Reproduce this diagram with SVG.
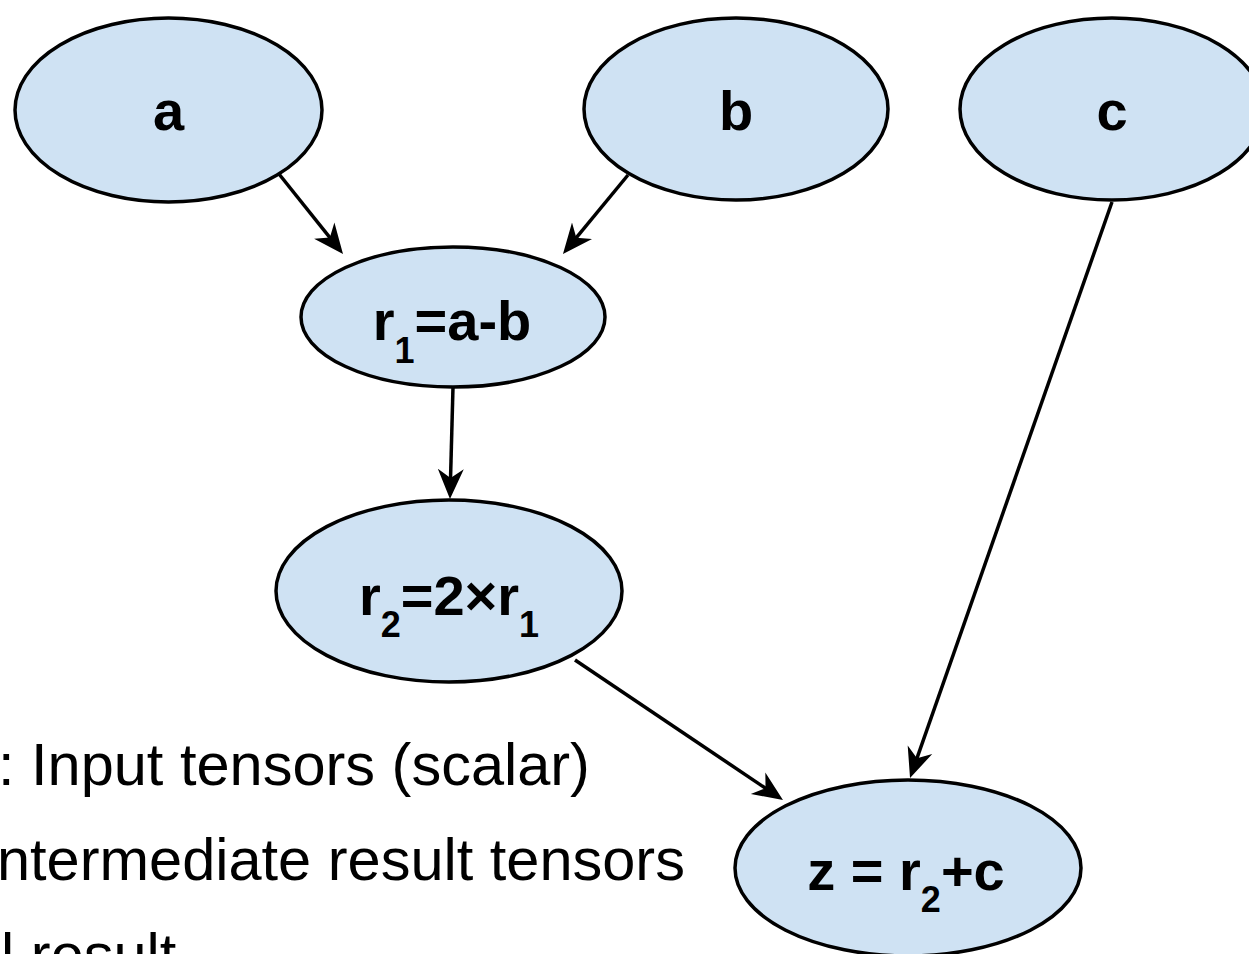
<svg xmlns="http://www.w3.org/2000/svg" width="1249" height="954" viewBox="0 0 1249 954">
<style>
.node ellipse{fill:#cfe2f3;stroke:#000;stroke-width:3.5}
.lbl{font-family:"Liberation Sans",Arial,sans-serif;font-weight:bold;font-size:56px;fill:#000;text-anchor:middle}
.sub{font-size:36px}
.legend{font-family:"Liberation Sans",Arial,sans-serif;font-size:59.5px;fill:#000}
.edge{stroke:#000;stroke-width:3.5;fill:none;marker-end:url(#arr)}
</style>
<defs>
<marker id="arr" markerUnits="userSpaceOnUse" markerWidth="32" markerHeight="30" viewBox="0 0 32 30" refX="18" refY="15" orient="auto">
<path d="M0,2 L30,15 L0,28 L9,15 Z" fill="#000"/>
</marker>
</defs>
<rect width="1249" height="954" fill="#fff"/>
<g id="node-a" class="node"><ellipse cx="168.5" cy="110" rx="153.5" ry="92"/><text class="lbl" x="168.5" y="130">a</text></g>
<g id="node-b" class="node"><ellipse cx="736" cy="109" rx="152" ry="91"/><text class="lbl" x="736" y="130">b</text></g>
<g id="node-c" class="node"><ellipse cx="1112" cy="109" rx="152" ry="91"/><text class="lbl" x="1112" y="130">c</text></g>
<g id="node-r1" class="node"><ellipse cx="453" cy="317" rx="152" ry="70"/><text class="lbl" x="452" y="340">r<tspan class="sub" dy="23">1</tspan><tspan dy="-23">=a-b</tspan></text></g>
<g id="node-r2" class="node"><ellipse cx="449" cy="591" rx="173" ry="91"/><text class="lbl" x="449" y="615">r<tspan class="sub" dy="22">2</tspan><tspan dy="-22">=2×r</tspan><tspan class="sub" dy="22">1</tspan></text></g>
<g id="node-z" class="node"><ellipse cx="908" cy="868" rx="173" ry="88"/><text class="lbl" x="906" y="890">z = r<tspan class="sub" dy="22">2</tspan><tspan dy="-22">+c</tspan></text></g>
<g id="connectors">
<line class="edge" x1="279" y1="174" x2="335.5" y2="244.6"/>
<line class="edge" x1="628" y1="175" x2="570.6" y2="244.7"/>
<line class="edge" x1="453" y1="387" x2="450.3" y2="487"/>
<line class="edge" x1="575" y1="660" x2="773" y2="793.3"/>
<line class="edge" x1="1112" y1="202" x2="914" y2="766.7"/>
</g>
<g id="legend">
<text class="legend" x="-2" y="785">: Input tensors (scalar)</text>
<text class="legend" x="-3" y="880">ntermediate result tensors</text>
<text class="legend" x="-32" y="975">al result</text>
</g>
</svg>
